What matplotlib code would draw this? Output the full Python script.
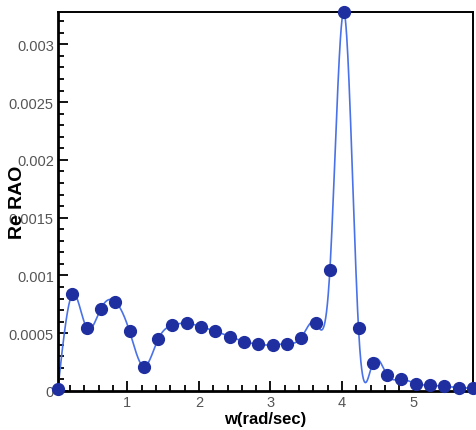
import numpy as np
import matplotlib
matplotlib.use("Agg")
import matplotlib.pyplot as plt
from matplotlib.ticker import MultipleLocator

# Data
w = [0.03, 0.23, 0.43, 0.63, 0.83, 1.03, 1.23, 1.43, 1.63, 1.83,
     2.03, 2.23, 2.43, 2.63, 2.83, 3.03, 3.23, 3.43, 3.63, 3.83,
     4.03, 4.23, 4.43, 4.63, 4.83, 5.03, 5.23, 5.43, 5.63, 5.83]
rao = [0.00002, 0.000837, 0.000549, 0.000713, 0.000774, 0.000517, 0.000211, 0.000448, 0.000569, 0.000586,
       0.000557, 0.000517, 0.000471, 0.000428, 0.000404, 0.000398, 0.000410, 0.000462, 0.000592, 0.001048,
       0.003276, 0.000543, 0.000246, 0.000139, 0.000101, 0.000064, 0.000049, 0.000040, 0.000030, 0.000023]
x_ticks = [1, 2, 3, 4, 5]
y_ticks = [0, 0.0005, 0.001, 0.0015, 0.002, 0.0025, 0.003]
y_tick_labels = ["0", "0.0005", "0.001", "0.0015", "0.002", "0.0025", "0.003"]
x_label = "w(rad/sec)"
y_label = "Re RAO"


def natural_spline(x, y, xs):
    x = np.asarray(x, float)
    y = np.asarray(y, float)
    n = len(x)
    h = np.diff(x)
    A = np.zeros((n, n))
    b = np.zeros(n)
    A[0, 0] = 1
    A[-1, -1] = 1
    for i in range(1, n - 1):
        A[i, i - 1] = h[i - 1]
        A[i, i] = 2 * (h[i - 1] + h[i])
        A[i, i + 1] = h[i]
        b[i] = 3 * ((y[i + 1] - y[i]) / h[i] - (y[i] - y[i - 1]) / h[i - 1])
    c = np.linalg.solve(A, b)
    bb = (y[1:] - y[:-1]) / h - h * (2 * c[:-1] + c[1:]) / 3
    d = (c[1:] - c[:-1]) / (3 * h)
    idx = np.clip(np.searchsorted(x, xs) - 1, 0, n - 2)
    dx = xs - x[idx]
    return y[idx] + bb[idx] * dx + c[idx] * dx ** 2 + d[idx] * dx ** 3


plt.rcParams['font.family'] = ['Liberation Sans', 'DejaVu Sans']

fig = plt.figure(figsize=(4.76, 4.31), dpi=100)
ax = fig.add_axes([0.1218, 0.0905, 0.8719, 0.8793])

xs = np.linspace(w[0], w[-1], 1500)
ax.plot(xs, natural_spline(w, rao, xs), color="#4a72e8", lw=1.2, zorder=2)
ax.plot(w, rao, linestyle="none", marker="o", markersize=8.5,
        color="#1f2fa0", markeredgecolor="#1f2fa0", zorder=3, clip_on=False)

ax.set_xlim(w[0], w[-1])
ax.set_ylim(0, 0.00328)
ax.set_xticks(x_ticks)
ax.set_yticks(y_ticks)
ax.set_yticklabels(y_tick_labels)
ax.xaxis.set_minor_locator(MultipleLocator(0.2))
ax.yaxis.set_minor_locator(MultipleLocator(0.0001))
ax.tick_params(which="both", direction="in", top=False, right=False,
               labelsize=10.5, labelcolor="#555555", width=1.3)
ax.tick_params(which="major", length=7, pad=3)
ax.tick_params(which="minor", length=4)

for s in ["left", "bottom"]:
    ax.spines[s].set_linewidth(2.0)
for s in ["top", "right"]:
    ax.spines[s].set_linewidth(1.4)

ax.set_xlabel(x_label, fontsize=12, fontweight="bold", labelpad=1)
ax.set_ylabel(y_label, fontsize=14, fontweight="bold")
ax.yaxis.set_label_coords(-0.077, 0.5)

fig.savefig("out.png", dpi=100)
